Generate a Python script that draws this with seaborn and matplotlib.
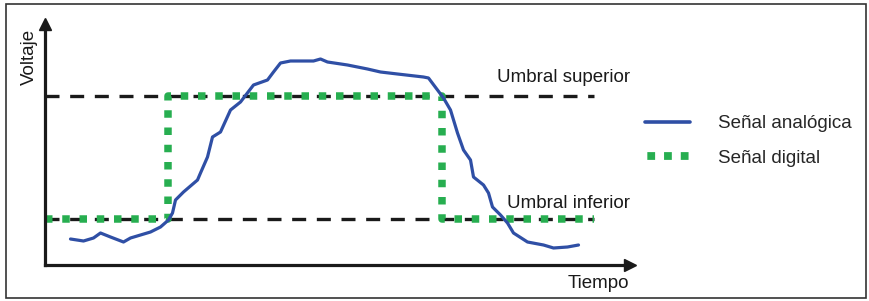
import matplotlib
matplotlib.use("Agg")
import matplotlib.pyplot as plt
import seaborn as sns
import pandas as pd
from matplotlib.patches import Rectangle
from matplotlib.lines import Line2D

# ---- data (time / voltage in arbitrary units) ----
analog_time = [26, 39, 49, 56, 66, 79, 86, 96, 106, 116, 124, 128, 131, 139, 153, 156,
               163, 168, 176, 186, 196, 209, 223, 229, 236, 246, 256, 269, 276, 283,
               303, 323, 336, 353, 379, 384, 393, 399, 406, 413, 419, 426, 429, 439,
               444, 448, 456, 463, 469, 483, 499, 509, 523, 534]
analog_volt = [26, 24, 27, 32, 28, 23, 27, 30, 33, 38, 45, 52, 65, 73, 85, 92,
               108, 128, 133, 155, 163, 180, 185, 193, 202, 204, 204, 204, 206, 203,
               200, 196, 193, 191, 188, 187, 175, 167, 155, 132, 115, 105, 88, 80,
               72, 58, 50, 42, 32, 23, 20, 17, 18, 20]
digital_time = [0, 123, 123, 397, 397, 549]
digital_volt = [46, 46, 169, 169, 46, 46]
thresholds = [169, 46]
threshold_labels = ["Umbral superior", "Umbral inferior"]
threshold_span = [0, 549]
legend_labels = ["Señal analógica", "Señal digital"]
x_label = "Tiempo"
y_label = "Voltaje"

BLUE = "#2F4FA5"
GREEN = "#27AE50"

sns.set_theme(style="white")
plt.rcParams["font.family"] = ["Liberation Sans", "DejaVu Sans"]

W, H = 869, 301
fig = plt.figure(figsize=(W / 100, H / 100), dpi=100)
ax = fig.add_axes([44.5 / W, (H - 265) / H, (630 - 44.5) / W, (265 - 24) / H])
ax.set_xlim(0, 630 - 44.5)
ax.set_ylim(0, 265 - 24)

# threshold dashed lines
for th in thresholds:
    df_th = pd.DataFrame({"t": threshold_span, "v": [th, th]})
    sns.lineplot(data=df_th, x="t", y="v", ax=ax, color="#1a1a1a", lw=2.4,
                 dashes=False, estimator=None, sort=False, legend=False,
                 linestyle=(0, (4.2, 3.2)))

df_dig = pd.DataFrame({"t": digital_time, "v": digital_volt})
sns.lineplot(data=df_dig, x="t", y="v", ax=ax, color=GREEN, lw=5.4,
             estimator=None, sort=False, legend=False,
             linestyle=(0, (1.0, 1.3)))

df_an = pd.DataFrame({"t": analog_time, "v": analog_volt})
sns.lineplot(data=df_an, x="t", y="v", ax=ax, color=BLUE, lw=2.3,
             estimator=None, sort=False, legend=False)

ax.set_xlabel("")
ax.set_ylabel("")
ax.set_xticks([])
ax.set_yticks([])
for s in ["top", "right"]:
    ax.spines[s].set_visible(False)
for s in ["left", "bottom"]:
    ax.spines[s].set_color("#1a1a1a")
    ax.spines[s].set_linewidth(2.3)
ax.plot(1, 0, marker=">", color="#1a1a1a", ms=9, transform=ax.transAxes, clip_on=False)
ax.plot(0, 1, marker="^", color="#1a1a1a", ms=9, transform=ax.transAxes, clip_on=False)

FS = 13.5
def ftext(x, y, s, **kw):
    fig.text(x / W, 1 - y / H, s, fontsize=FS, color="#1a1a1a", **kw)

ftext(497, 78, threshold_labels[0], ha="left", va="center")
ftext(507, 203, threshold_labels[1], ha="left", va="center")
ftext(568, 284, x_label, ha="left", va="center")
ftext(29, 57, y_label, ha="center", va="center", rotation=90)

handles = [Line2D([0], [0], color=BLUE, lw=2.6),
           Line2D([0], [0], color=GREEN, lw=5.6, linestyle=(-0.3, (1.0, 1.15)))]
ax.legend(handles, legend_labels, loc="upper left",
          bbox_to_anchor=(645 / W, 1 - 115 / H), bbox_transform=fig.transFigure,
          frameon=False, fontsize=FS, handlelength=2.4, handletextpad=1.5,
          labelspacing=0.95, borderpad=0, borderaxespad=0)

fig.patches.append(Rectangle((5.5 / W, 3.5 / H), (866 - 5.5) / W, (297.5 - 3.5) / H,
                             transform=fig.transFigure, fill=False,
                             edgecolor="#333333", lw=1.2))

fig.savefig("out.png", dpi=100)
